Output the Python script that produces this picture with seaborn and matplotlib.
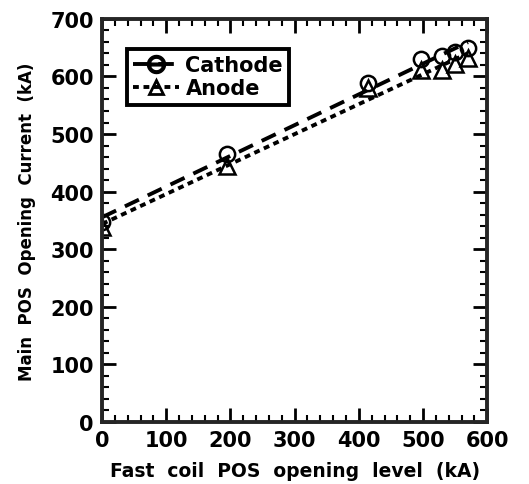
import numpy as np
import pandas as pd
import matplotlib
matplotlib.use("Agg")
import matplotlib.pyplot as plt
import seaborn as sns
from matplotlib.ticker import MultipleLocator

# data
fast_coil = [0, 195, 415, 497, 530, 550, 570]
cathode = [348, 465, 588, 630, 635, 643, 650]
anode = [338, 445, 580, 612, 612, 622, 632]

sns.set_style("ticks")
plt.rcParams['font.family'] = ['DejaVu Sans']
plt.rcParams['font.weight'] = 'bold'
plt.rcParams['text.color'] = 'black'
plt.rcParams['axes.labelcolor'] = 'black'
plt.rcParams['xtick.color'] = 'black'
plt.rcParams['ytick.color'] = 'black'

df = pd.DataFrame({'x': fast_coil, 'Cathode': cathode, 'Anode': anode})

fig = plt.figure(figsize=(5.29, 4.85), dpi=100)
ax = fig.add_axes([0.193, 0.128, 0.728, 0.831])

# fit lines
sns.regplot(x='x', y='Cathode', data=df, ax=ax, scatter=False, ci=None,
            line_kws=dict(color='black', lw=2.8, ls=(0, (4, 2.5))))
sns.regplot(x='x', y='Anode', data=df, ax=ax, scatter=False, ci=None,
            line_kws=dict(color='black', lw=2.8, ls=(0, (1.5, 1.2))))

# markers
ax.plot(df['x'], df['Cathode'], ls='none', marker='o', ms=11, mfc='none',
        mec='black', mew=1.8)
ax.plot(df['x'], df['Anode'], ls='none', marker='^', ms=11, mfc='none',
        mec='black', mew=1.8)

# legend proxies
h1, = ax.plot([], [], color='black', lw=2.8, ls=(0, (4, 2.5)), marker='$\\ominus$',
              ms=13, label='Cathode')
h2, = ax.plot([], [], color='black', lw=2.8, ls=(0, (1.5, 1.2)), marker='^',
              ms=10, mfc='none', mew=2, label='Anode')
leg = ax.legend(handles=[h1, h2], loc='upper left', bbox_to_anchor=(0.065, 0.925),
                frameon=True, fancybox=False, edgecolor='black', framealpha=1,
                prop=dict(size=15, weight='bold'), handlelength=2.2,
                borderpad=0.3, labelspacing=0.15, handletextpad=0.3,
                borderaxespad=0)
leg.get_frame().set_linewidth(2.8)

ax.set_xlim(0, 600)
ax.set_ylim(0, 700)
ax.xaxis.set_major_locator(MultipleLocator(100))
ax.xaxis.set_minor_locator(MultipleLocator(20))
ax.yaxis.set_major_locator(MultipleLocator(100))
ax.yaxis.set_minor_locator(MultipleLocator(20))
ax.tick_params(which='major', direction='in', length=10, width=2,
               top=True, right=True, labelsize=15, pad=6)
ax.tick_params(which='minor', direction='in', length=5, width=1.5,
               top=True, right=True)
for t in ax.get_xticklabels() + ax.get_yticklabels():
    t.set_fontweight('bold')
for s in ax.spines.values():
    s.set_linewidth(2.8)
    s.set_visible(True)

ax.set_xlabel('Fast  coil  POS  opening  level  (kA)', fontsize=13.5,
              fontweight='bold', labelpad=8)
ax.set_ylabel('Main  POS  Opening  Current  (kA)', fontsize=12,
              fontweight='bold', labelpad=10)

fig.savefig('out.png', dpi=100)
